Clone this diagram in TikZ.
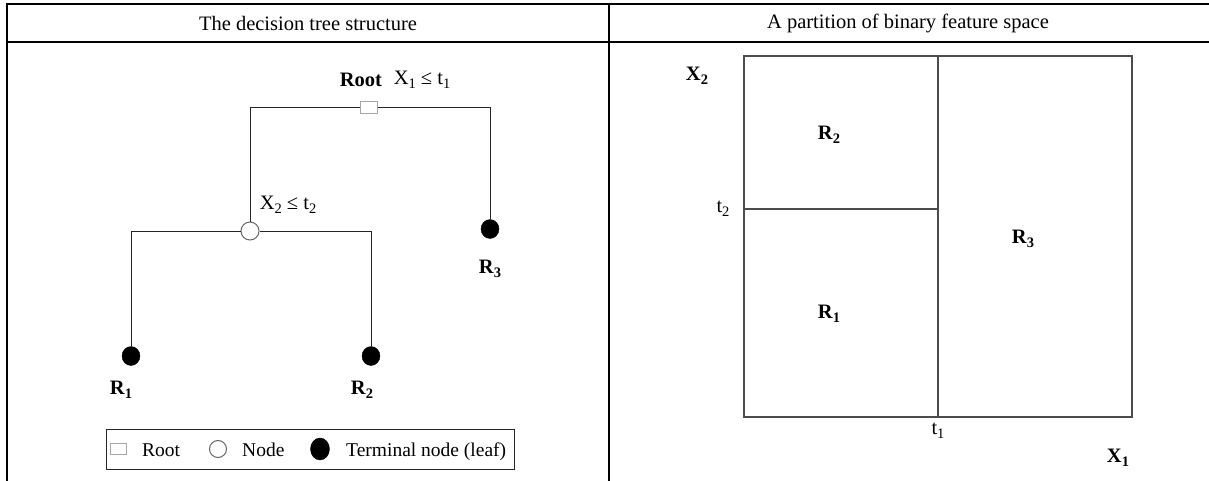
\documentclass[tikz,border=0pt]{standalone}
\usepackage{fontspec}
\setmainfont{Liberation Serif}
\usetikzlibrary{shapes.geometric}
\newcommand{\sbx}[1]{\raisebox{-0.4ex}{\fontsize{14.5}{14.5}\selectfont #1}}
\tikzset{
  tbl/.style={line width=2pt,black},
  edge/.style={line width=1pt,draw=black!85},
  part/.style={line width=1.4pt,draw=black!70},
  rootbox/.style={rectangle,draw=black!35,fill=white,line width=1pt,minimum width=17pt,minimum height=12pt,inner sep=0pt},
  splitnode/.style={circle,draw=black!60,fill=white,line width=1pt,minimum size=18pt,inner sep=0pt},
  leaf/.style={ellipse,fill=black,draw=black,minimum width=18pt,minimum height=19pt,inner sep=0pt},
  lbl/.style={inner sep=0pt,font=\fontsize{20.5}{20.5}\selectfont},
  blbl/.style={inner sep=0pt,font=\fontsize{20.5}{20.5}\selectfont\bfseries},
  head/.style={inner sep=0pt,font=\fontsize{20.5}{20.5}\selectfont},
  leg/.style={inner sep=0pt,font=\fontsize{19.5}{19.5}\selectfont,anchor=base west},
}
\begin{document}
\begin{tikzpicture}[x=1pt,y=-1pt]
\useasboundingbox (0,0) rectangle (1209,481);
% table
\draw[tbl] (1209,4) -- (7,4) -- (7,481);
\draw[tbl] (7,42) -- (1209,42);
\draw[tbl] (609,4) -- (609,481);
\node[head] (h1) at (308,23) {The decision tree structure};
\node[head] (h2) at (908,23) {A partition of binary feature space};
% tree
\node[rootbox] (root) at (369,108) {};
\node[splitnode] (n2) at (250,231) {};
\node[leaf] (r3) at (490,229) {};
\node[leaf] (r1) at (131,356) {};
\node[leaf] (r2) at (371,356) {};
\draw[edge] (root.west) -| (n2.north);
\draw[edge] (root.east) -| (r3.north);
\draw[edge] (n2.west) -| (r1.north);
\draw[edge] (n2.east) -| (r2.north);
\node[blbl] (rootlbl) at (361,80) {Root};
\node[lbl] (c1) at (422,80) {X\sbx{1} ≤ t\sbx{1}};
\node[lbl] (c2) at (288,205) {X\sbx{2} ≤ t\sbx{2}};
\node[blbl] (l3) at (490,269) {R\sbx{\bfseries 3}};
\node[blbl] (l1) at (121,390) {R\sbx{\bfseries 1}};
\node[blbl] (l2) at (362,390) {R\sbx{\bfseries 2}};
% legend
\node[draw=black!85,line width=1pt,minimum width=408pt,minimum height=40pt,inner sep=0pt] (legbox) at (310,449) {};
\node[rootbox,minimum width=16pt,minimum height=11pt] (lg1) at (118,449) {};
\node[leg] (lt1) at (142,456) {Root};
\node[splitnode,minimum size=17pt] (lg2) at (218,449) {};
\node[leg] (lt2) at (242,456) {Node};
\node[leaf,minimum width=19pt,minimum height=22pt] (lg3) at (320,449) {};
\node[leg] (lt3) at (346,456) {Terminal node (leaf)};
% partition
\coordinate (p1) at (744,56);
\coordinate (p2) at (1132,417);
\coordinate (vt) at (938,56);
\coordinate (vb) at (938,417);
\coordinate (hl) at (744,209);
\coordinate (hr) at (938,209);
\draw[part] (p1) rectangle (p2);
\draw[part] (vt) -- (vb);
\draw[part] (hl) -- (hr);
\node[blbl] (ax2) at (697,76) {X\sbx{\bfseries 2}};
\node[blbl] (pr2) at (829,135) {R\sbx{\bfseries 2}};
\node[lbl] (pt2) at (723,209) {t\sbx{2}};
\node[blbl] (pr1) at (829,314) {R\sbx{\bfseries 1}};
\node[blbl] (pr3) at (1023,239) {R\sbx{\bfseries 3}};
\node[lbl] (pt1) at (938,431) {t\sbx{1}};
\node[blbl] (ax1) at (1118,458) {X\sbx{\bfseries 1}};
\end{tikzpicture}
\end{document}
